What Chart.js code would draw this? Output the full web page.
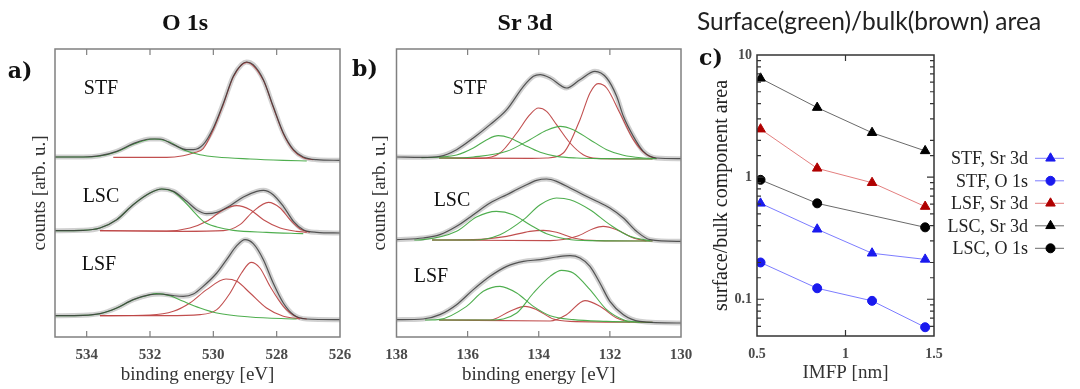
<!DOCTYPE html>
<html><head><meta charset="utf-8">
<script src="https://cdn.jsdelivr.net/npm/chart.js@4.4.1/dist/chart.umd.min.js"></script>
<style>
html,body{margin:0;padding:0;background:#fff;}
#wrap{position:relative;width:1080px;height:389px;overflow:hidden;background:#fff;}
canvas{position:absolute;left:0;top:0;width:1080px;height:389px;}
.t{position:absolute;white-space:nowrap;transform:translate(-50%,-50%);font-family:"Liberation Serif",serif;color:#111;line-height:1;}
.b{font-weight:bold;}
.lt{font-family:"DejaVu Serif",serif;font-weight:bold;font-size:22px;}
.lab{font-size:20px;}
</style></head><body>
<div id="wrap">
<canvas id="ca" width="1080" height="389"></canvas>
<canvas id="cb" width="1080" height="389"></canvas>
<canvas id="cc" width="1080" height="389"></canvas>
<div class="t b" style="left:185px;top:22px;font-size:24px">O 1s</div>
<div class="t b" style="left:525px;top:22px;font-size:24px">Sr 3d</div>
<div class="t" style="left:869px;top:21px;font-size:24.5px;font-family:Lato,sans-serif;color:#222">Surface(green)/bulk(brown) area</div>
<div class="t lt" style="left:20px;top:70px">a)</div>
<div class="t lt" style="left:365px;top:68px">b)</div>
<div class="t lt" style="left:711px;top:57px">c)</div>
<div class="t lab" style="left:101px;top:87px">STF</div>
<div class="t lab" style="left:101px;top:195px">LSC</div>
<div class="t lab" style="left:99px;top:263px">LSF</div>
<div class="t lab" style="left:470px;top:87px">STF</div>
<div class="t lab" style="left:452px;top:199px">LSC</div>
<div class="t lab" style="left:431px;top:275px">LSF</div>
</div>
<script>
// ---------- Panel a: O 1s spectra  [binding energy eV, counts arb. u.] ----------
const O1S_STF_FIT  = [[535,540],[534.11,540],[533.58,544],[533.05,557],[532.53,580],[532.0,594],[531.68,594],[531.26,577],[530.84,562],[530.63,562],[530.32,577],[530.0,627],[529.68,702],[529.37,782],[529.11,817],[528.95,825],[528.74,817],[528.42,772],[528.11,692],[527.79,612],[527.47,562],[527.16,540],[526.74,532],[526.0,530]];
const O1S_STF_SURF = [[535,540],[534.11,540],[533.58,543],[533.05,556],[532.53,578],[532.0,593],[531.85,594],[531.37,584],[530.95,562],[530.42,547],[529.89,540],[528.84,534],[527.79,530],[527.05,528]];
const O1S_STF_BULK = [[533.16,539],[531.47,539],[530.95,544],[530.63,552],[530.32,565],[530.0,622],[529.68,699],[529.37,780],[528.95,824],[528.42,770],[528.11,690],[527.79,610],[527.47,560],[527.16,538],[526.84,532]];

const O1S_LSC_FIT  = [[535,319],[534.11,320],[533.58,327],[533.05,352],[532.53,397],[532.0,432],[531.63,444],[531.26,437],[530.84,407],[530.53,382],[530.21,370],[529.89,374],[529.47,394],[529.05,420],[528.63,437],[528.42,440],[528.11,427],[527.79,392],[527.47,347],[527.16,322],[526.74,314],[526.0,312]];
const O1S_LSC_SURF = [[535,319],[534.11,320],[533.58,327],[533.05,352],[532.53,397],[532.0,432],[531.63,444],[531.26,436],[530.95,410],[530.63,377],[530.32,347],[529.89,330],[529.37,320],[528.32,314],[527.16,310]];
const O1S_LSC_BULK1 = [[533.58,319],[531.47,318],[530.74,327],[530.21,347],[529.68,382],[529.26,394],[528.84,382],[528.42,352],[527.89,327],[527.37,317],[527.05,314]];
const O1S_LSC_BULK2 = [[533.58,319],[530.95,317],[529.68,319],[529.16,337],[528.74,377],[528.26,404],[527.89,387],[527.58,352],[527.26,324],[526.95,314]];

const O1S_LSF_FIT  = [[535,64],[534.11,65],[533.58,70],[533.05,87],[532.53,112],[532.0,127],[531.68,129],[531.26,124],[530.95,122],[530.63,129],[530.32,152],[529.89,192],[529.58,232],[529.26,274],[529.0,292],[528.74,280],[528.42,232],[528.11,162],[527.79,102],[527.47,67],[527.05,54],[526.0,52]];
const O1S_LSF_SURF = [[535,64],[534.11,65],[533.58,70],[533.05,87],[532.53,112],[532.0,127],[531.8,130],[531.37,124],[530.95,107],[530.42,87],[529.89,72],[528.84,60],[527.37,54]];
const O1S_LSF_BULK1 = [[533.58,64],[532.0,66],[531.26,77],[530.74,102],[530.21,142],[529.6,174],[529.26,167],[528.84,132],[528.32,87],[527.79,62],[527.26,54]];
const O1S_LSF_BULK2 = [[533.58,64],[531.47,64],[530.42,67],[529.89,82],[529.47,132],[529.11,192],[528.81,224],[528.53,207],[528.21,152],[527.79,92],[527.37,60],[527.05,54]];

// ---------- Panel b: Sr 3d spectra ----------
const SR3D_STF_FIT  = [[138,540],[137.3,539],[136.78,542],[136.31,562],[135.84,597],[135.37,637],[134.9,682],[134.43,752],[134.15,782],[133.96,787],[133.68,777],[133.22,747],[132.84,772],[132.42,797],[132.09,777],[131.81,722],[131.62,662],[131.34,602],[131.06,557],[130.69,537],[130,535]];
const SR3D_STF_SURF1 = [[137.3,538],[136.78,540],[136.31,546],[135.84,567],[135.46,592],[135.14,604],[134.81,597],[134.43,577],[133.96,554],[133.5,542],[132.93,537],[132.09,535],[130.8,534]];
const SR3D_STF_BULK1 = [[136.8,537],[135.65,536],[135.09,552],[134.62,612],[134.25,667],[134.01,687],[133.78,677],[133.5,637],[133.12,582],[132.75,547],[132.37,536],[130.8,534]];
const SR3D_STF_SURF2 = [[136.8,537],[136.3,537],[135.84,540],[134.9,557],[134.25,592],[133.78,620],[133.4,632],[133.03,622],[132.56,592],[132.09,562],[131.62,545],[131.06,537],[130.69,535]];
const SR3D_STF_BULK2 = [[136.8,537],[134.2,536],[133.78,537],[133.31,552],[132.84,652],[132.56,732],[132.33,760],[132.09,747],[131.72,672],[131.34,592],[130.97,547],[130.69,535]];

const SR3D_LSC_FIT  = [[138,292],[137.25,297],[136.78,307],[136.31,332],[135.84,367],[135.37,402],[134.9,427],[134.43,452],[134.06,470],[133.78,474],[133.5,467],[133.12,447],[132.75,427],[132.37,407],[132.0,387],[131.62,357],[131.25,317],[130.87,292],[130.12,287],[130,287]];
const SR3D_LSC_SURF1 = [[137.5,291],[137.25,292],[136.31,317],[135.75,360],[135.19,377],[134.72,367],[134.25,337],[133.78,310],[133.22,294],[132.56,289],[130.8,288]];
const SR3D_LSC_SURF2 = [[137.0,291],[135.84,291],[135.09,307],[134.43,352],[133.96,397],[133.5,417],[133.12,412],[132.56,382],[132.0,337],[131.44,302],[130.87,289]];
const SR3D_LSC_BULK1 = [[137.0,291],[135.84,292],[134.9,302],[134.25,317],[133.87,320],[133.5,314],[133.03,297],[132.37,289],[130.8,288]];
const SR3D_LSC_BULK2 = [[137.0,291],[133.68,289],[132.93,302],[132.47,325],[132.19,332],[131.81,322],[131.34,297],[130.97,288]];

const SR3D_LSF_FIT  = [[138,52],[137.25,54],[136.78,67],[136.31,97],[135.84,142],[135.37,182],[134.9,212],[134.43,227],[133.96,232],[133.5,240],[133.12,244],[132.84,237],[132.56,212],[132.28,162],[132.0,107],[131.62,67],[131.16,47],[130.12,42],[130,42]];
const SR3D_LSF_SURF1 = [[137.2,51],[136.78,53],[136.03,92],[135.56,137],[135.09,152],[134.62,132],[134.15,92],[133.68,64],[133.03,52],[132.09,47],[130.8,44]];
const SR3D_LSF_SURF2 = [[136.8,51],[135.37,51],[134.62,72],[134.15,132],[133.68,182],[133.36,200],[133.03,192],[132.56,142],[132.09,82],[131.62,52],[131.16,44]];
const SR3D_LSF_BULK1 = [[136.8,51],[135.37,51],[134.81,77],[134.39,92],[134.06,82],[133.59,54],[133.12,47],[130.8,44]];
const SR3D_LSF_BULK2 = [[136.8,51],[133.68,48],[133.22,67],[132.7,109],[132.28,92],[131.81,57],[131.44,44]];

// ---------- Panel c: surface/bulk component area vs IMFP ----------
const IMFP_NM     = [0.52, 0.84, 1.15, 1.45];
const STF_SR3D    = [0.61, 0.374, 0.238, 0.212];
const STF_O1S     = [0.20, 0.123, 0.097, 0.059];
const LSF_SR3D    = [2.47, 1.18, 0.90, 0.574];
const LSC_SR3D    = [6.44, 3.71, 2.31, 1.64];
const LSC_O1S     = [0.95, 0.61, null, 0.388];
const SERIES_LABELS = ['STF, Sr 3d', 'STF, O 1s', 'LSF, Sr 3d', 'LSC, Sr 3d', 'LSC, O 1s'];

const O1S_TICKS_MIN = 526, O1S_TICKS_MAX = 535;
const SR3D_TICKS_MIN = 130, SR3D_TICKS_MAX = 138;

const FONT = '"Liberation Serif", "Times New Roman", serif';
const GREEN = 'rgba(70,170,70,0.95)';
const RED = 'rgba(190,70,70,0.95)';

const framePlugin = {
  id: 'frame',
  afterDatasetsDraw(chart, args, opts) {
    const {ctx} = chart;
    const {left, right, top, bottom} = chart.chartArea;
    ctx.save();
    ctx.strokeStyle = opts.color || '#777';
    ctx.lineWidth = opts.width || 1.5;
    ctx.strokeRect(left, top, right - left, bottom - top);
    ctx.lineWidth = 1.2;
    const L = 6;
    const xs = chart.scales.x;
    xs.ticks.forEach(t => {
      const p = xs.getPixelForValue(t.value);
      if (p - left < 2 || right - p < 2) return;
      ctx.beginPath();
      ctx.moveTo(p, top); ctx.lineTo(p, top + L);
      ctx.moveTo(p, bottom); ctx.lineTo(p, bottom - L);
      ctx.stroke();
    });
    if (opts.logY) {
      const ys = chart.scales.y;
      ys.ticks.forEach(t => {
        const p = ys.getPixelForValue(t.value);
        if (p < top + 1 || p > bottom - 1) return;
        const e = Math.log10(t.value);
        const major = Math.abs(e - Math.round(e)) < 1e-6;
        const len = major ? 7 : 4;
        ctx.beginPath();
        ctx.moveTo(left, p); ctx.lineTo(left + len, p);
        ctx.moveTo(right, p); ctx.lineTo(right - len, p);
        ctx.stroke();
      });
    }
    ctx.restore();
  }
};

function pts(arr) { return arr.map(([x, y]) => ({x, y})); }
function line(label, arr, kind) {
  const st = {
    band: {borderColor: 'rgba(150,150,150,0.45)', borderWidth: 5, order: 3},
    fit:  {borderColor: 'rgba(60,60,60,0.85)', borderWidth: 1.2, order: 1},
    surf: {borderColor: GREEN, borderWidth: 1.1, order: 2},
    bulk: {borderColor: RED, borderWidth: 1.1, order: 2}
  }[kind];
  return Object.assign({label, data: pts(arr), pointRadius: 0, fill: false,
    cubicInterpolationMode: 'monotone'}, st);
}
function spectrum(name, fit, surfs, bulks) {
  const out = [line(name + ' data', fit, 'band'), line(name + ' fit', fit, 'fit')];
  surfs.forEach((s, i) => out.push(line(name + ' surface ' + (i + 1), s, 'surf')));
  bulks.forEach((b, i) => out.push(line(name + ' bulk ' + (i + 1), b, 'bulk')));
  return out;
}

function energyChart(id, datasets, xmin, xmax, padLeft, yWidth, padRight) {
  return new Chart(document.getElementById(id), {
    type: 'line',
    data: {datasets},
    plugins: [framePlugin],
    options: {
      responsive: false, animation: false, events: [],
      layout: {padding: {left: padLeft, right: padRight, top: 49, bottom: 0}},
      plugins: {legend: {display: false}, tooltip: {enabled: false}, frame: {color: '#808080', width: 1.5}},
      scales: {
        x: {type: 'linear', reverse: true, min: xmin, max: xmax,
          grid: {display: false, drawTicks: false}, border: {display: false},
          ticks: {stepSize: 2, includeBounds: false, padding: 9, color: '#4a4a4a', maxRotation: 0, autoSkip: false,
            font: {family: FONT, size: 15, weight: 'bold'}, callback: v => String(v)},
          title: {display: true, text: 'binding energy [eV]', color: '#333', font: {family: FONT, size: 19}, padding: {top: 0, bottom: 3}},
          afterFit(s) { s.height = 52; s.paddingLeft = 0; s.paddingRight = 0; }
        },
        y: {type: 'linear', min: 0, max: 864,
          grid: {display: false, drawTicks: false}, border: {display: false},
          ticks: {display: false},
          title: {display: true, text: 'counts [arb. u.]', color: '#333', font: {family: FONT, size: 19}, padding: 0},
          afterFit(s) { s.width = yWidth; s.paddingTop = 0; s.paddingBottom = 0; }
        }
      }
    }
  });
}

energyChart('ca', [].concat(
  spectrum('STF O 1s', O1S_STF_FIT, [O1S_STF_SURF], [O1S_STF_BULK]),
  spectrum('LSC O 1s', O1S_LSC_FIT, [O1S_LSC_SURF], [O1S_LSC_BULK1, O1S_LSC_BULK2]),
  spectrum('LSF O 1s', O1S_LSF_FIT, [O1S_LSF_SURF], [O1S_LSF_BULK1, O1S_LSF_BULK2])
), O1S_TICKS_MIN, O1S_TICKS_MAX, 28.5, 26.5, 740);

energyChart('cb', [].concat(
  spectrum('STF Sr 3d', SR3D_STF_FIT, [SR3D_STF_SURF1, SR3D_STF_SURF2], [SR3D_STF_BULK1, SR3D_STF_BULK2]),
  spectrum('LSC Sr 3d', SR3D_LSC_FIT, [SR3D_LSC_SURF1, SR3D_LSC_SURF2], [SR3D_LSC_BULK1, SR3D_LSC_BULK2]),
  spectrum('LSF Sr 3d', SR3D_LSF_FIT, [SR3D_LSF_SURF1, SR3D_LSF_SURF2], [SR3D_LSF_BULK1, SR3D_LSF_BULK2])
), SR3D_TICKS_MIN, SR3D_TICKS_MAX, 368.5, 28, 399);

// Panel c
const SERIES = [
  {label: SERIES_LABELS[0], values: STF_SR3D, line: 'rgba(110,110,255,0.9)', mark: '#1a1aee', style: 'triangle', r: 5.5},
  {label: SERIES_LABELS[1], values: STF_O1S,  line: 'rgba(110,110,255,0.9)', mark: '#1a1aee', style: 'circle', r: 4.5},
  {label: SERIES_LABELS[2], values: LSF_SR3D, line: 'rgba(225,120,120,0.95)', mark: '#b00000', style: 'triangle', r: 5.5},
  {label: SERIES_LABELS[3], values: LSC_SR3D, line: 'rgba(90,90,90,0.9)', mark: '#000', style: 'triangle', r: 5.5},
  {label: SERIES_LABELS[4], values: LSC_O1S,  line: 'rgba(90,90,90,0.9)', mark: '#000', style: 'circle', r: 4.5}
];

const legendPlugin = {
  id: 'sideLegend',
  afterDraw(chart) {
    const {ctx} = chart;
    ctx.save();
    chart.data.datasets.forEach((d, i) => {
      const y = 158.3 + i * 22.5;
      ctx.fillStyle = '#222';
      ctx.font = '18px ' + FONT;
      ctx.textAlign = 'right';
      ctx.textBaseline = 'middle';
      ctx.fillText(d.label, 1028, y + 1);
      ctx.strokeStyle = d.borderColor;
      ctx.lineWidth = 1;
      ctx.beginPath(); ctx.moveTo(1035, y); ctx.lineTo(1064, y); ctx.stroke();
      ctx.fillStyle = d.pointBackgroundColor;
      ctx.strokeStyle = d.pointBorderColor;
      Chart.helpers.drawPoint(ctx, {pointStyle: d.pointStyle, radius: d.pointRadius, rotation: 0, borderWidth: 1}, 1050.5, y);
    });
    ctx.restore();
  }
};

new Chart(document.getElementById('cc'), {
  type: 'line',
  data: {
    datasets: SERIES.map(s => ({
      label: s.label,
      data: IMFP_NM.map((x, i) => ({x, y: s.values[i]})).filter(p => p.y !== null),
      borderColor: s.line, borderWidth: 1,
      pointStyle: s.style, pointRadius: s.r,
      pointBackgroundColor: s.mark, pointBorderColor: s.mark, pointBorderWidth: 1,
      fill: false, tension: 0, spanGaps: true
    }))
  },
  plugins: [framePlugin, legendPlugin],
  options: {
    responsive: false, animation: false, events: [],
    layout: {padding: {left: 710, right: 146, top: 55, bottom: 0}},
    plugins: {legend: {display: false}, tooltip: {enabled: false}, frame: {color: '#333', width: 1.5, logY: true}},
    scales: {
      x: {type: 'linear', min: 0.5, max: 1.5,
        grid: {display: false, drawTicks: false}, border: {display: false},
        ticks: {stepSize: 0.5, padding: 10, color: '#4a4a4a', maxRotation: 0, autoSkip: false,
          font: {family: FONT, size: 14, weight: 'bold'}, callback: v => String(v)},
        title: {display: true, text: 'IMFP [nm]', color: '#333', font: {family: FONT, size: 19}, padding: {top: 0, bottom: 5}},
        afterFit(s) { s.height = 53; s.paddingLeft = 0; s.paddingRight = 0; }
      },
      y: {type: 'logarithmic', min: 0.05, max: 10,
        grid: {display: false, drawTicks: false}, border: {display: false},
        ticks: {autoSkip: false, padding: 5, color: '#4a4a4a', font: {family: FONT, size: 14, weight: 'bold'},
          callback: v => ([0.1, 1, 10].some(m => Math.abs(v - m) < 1e-9) ? String(v) : '')},
        title: {display: true, text: 'surface/bulk component area', color: '#222', font: {family: FONT, size: 20}, padding: 0},
        afterFit(s) { s.width = 47; s.paddingTop = 0; s.paddingBottom = 0; }
      }
    }
  }
});
</script>
</body></html>
